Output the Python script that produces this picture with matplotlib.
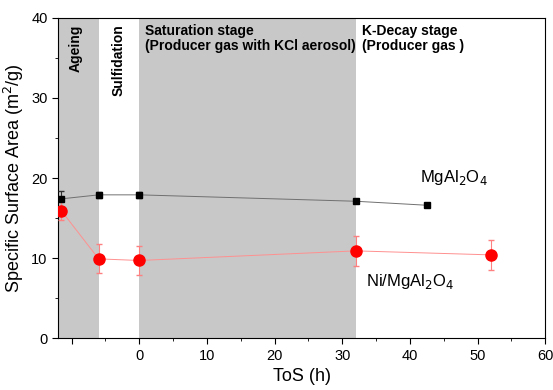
import numpy as np
import matplotlib.pyplot as plt
from matplotlib.ticker import MultipleLocator, FixedLocator

plt.rcParams['font.family'] = ['Liberation Sans', 'DejaVu Sans']

# MgAl2O4 support
tos_mg = [-11.5, -6, 0, 32, 42.5]
ssa_mg = [17.4, 17.9, 17.9, 17.1, 16.6]
err_mg = [1.0, 0.4, 0.4, 0.2, 0.2]

# Ni/MgAl2O4 catalyst
tos_ni = [-11.5, -6, 0, 32, 52]
ssa_ni = [15.9, 9.9, 9.7, 10.9, 10.4]
err_ni = [1.2, 1.8, 1.8, 1.9, 1.9]

# shaded stage windows (h)
stages = [(-12, -5.9), (0, 32)]

fig = plt.figure(figsize=(5.53, 3.9), dpi=100)
ax = fig.add_axes([0.105, 0.133, 0.881, 0.821])

for x0, x1 in stages:
    ax.axvspan(x0, x1, color='#c8c8c8', lw=0, zorder=0)

# thin connecting lines, lighter than the markers
ax.plot(tos_mg, ssa_mg, '-', color='#707070', lw=0.7, zorder=2)
ax.plot(tos_ni, ssa_ni, '-', color='#ff9090', lw=0.7, zorder=2)

ax.errorbar(tos_mg, ssa_mg, yerr=err_mg, fmt='s', color='black', ms=4.5,
            ecolor='#303030', elinewidth=0.8, capsize=2.5, zorder=3)
ax.errorbar(tos_ni, ssa_ni, yerr=err_ni, fmt='o', color='red', ms=8,
            ecolor='#ff8080', elinewidth=0.8, capsize=2.5, zorder=3)

ax.set_xlim(-12, 60)
ax.set_ylim(0, 40)
ax.xaxis.set_major_locator(FixedLocator([-10, 0, 10, 20, 30, 40, 50, 60]))
ax.set_xticklabels(['', '0', '10', '20', '30', '40', '50', '60'])
ax.xaxis.set_minor_locator(MultipleLocator(5))
ax.yaxis.set_major_locator(MultipleLocator(10))
ax.yaxis.set_minor_locator(MultipleLocator(5))
ax.tick_params(which='both', direction='out', labelsize=10.5)
ax.tick_params(which='major', length=4)
ax.tick_params(which='minor', length=2.5)

ax.set_xlabel('ToS (h)', fontsize=13)
ax.set_ylabel('Specific Surface Area (m$^2$/g)', fontsize=13)

ax.text(-9.4, 39.2, 'Ageing', rotation=90, fontweight='bold', fontsize=10,
        ha='center', va='top')
ax.text(-3.0, 39.2, 'Sulfidation', rotation=90, fontweight='bold', fontsize=10,
        ha='center', va='top')
ax.text(0.9, 39.3, 'Saturation stage\n(Producer gas with KCl aerosol)',
        fontweight='bold', fontsize=10, ha='left', va='top', linespacing=1.1)
ax.text(32.9, 39.3, 'K-Decay stage\n(Producer gas )',
        fontweight='bold', fontsize=10, ha='left', va='top', linespacing=1.1)

ax.text(41.5, 18.9, 'MgAl$_2$O$_4$', fontsize=12, ha='left', va='bottom')
ax.text(33.5, 8.2, 'Ni/MgAl$_2$O$_4$', fontsize=12, ha='left', va='top')

fig.savefig('out.png', dpi=100)
